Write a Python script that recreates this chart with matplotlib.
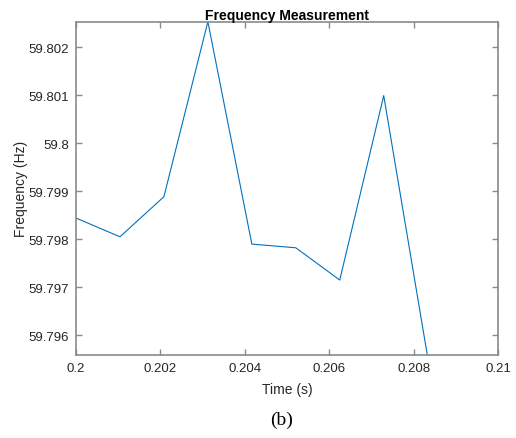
import numpy as np
import matplotlib
matplotlib.use("Agg")
import matplotlib.pyplot as plt

# samples (960 Hz spacing)
t = [0.2, 0.201042, 0.202083, 0.203125, 0.204167, 0.205208, 0.20625, 0.207292, 0.208333]
freq = [59.798444, 59.798054, 59.798888, 59.80253, 59.797902, 59.797825, 59.797154, 59.800992, 59.79555]
xticks = [0.2, 0.202, 0.204, 0.206, 0.208, 0.21]
xticklabels = ["0.2", "0.202", "0.204", "0.206", "0.208", "0.21"]
yticks = [59.796, 59.797, 59.798, 59.799, 59.8, 59.801, 59.802]
yticklabels = ["59.796", "59.797", "59.798", "59.799", "59.8", "59.801", "59.802"]

plt.rcParams['font.family'] = ['Liberation Sans', 'DejaVu Sans']
axcol = '#8a8a8a'
txtcol = '#262626'

fig = plt.figure(figsize=(5.16, 4.39), dpi=100)
ax = fig.add_axes([76/516, 1 - 355.7/439, (498-76)/516, (355.7-22.7)/439])
ax.plot(t, freq, color='#0072BD', linewidth=0.8)
ax.set_xlim(0.2, 0.21)
ax.set_ylim(59.7956, 59.80253)
ax.set_xticks(xticks)
ax.set_xticklabels(xticklabels)
ax.set_yticks(yticks)
ax.set_yticklabels(yticklabels)
for s in ax.spines.values():
    s.set_color(axcol)
    s.set_linewidth(1.2)
ax.tick_params(direction='in', top=True, right=True, length=4, width=1,
               color=axcol, labelcolor=txtcol, labelsize=9.5, pad=5)
ax.set_title("Frequency Measurement", fontsize=10, fontweight='bold', color='black', pad=2)
ax.set_xlabel("Time (s)", fontsize=10, color=txtcol, labelpad=6)
ax.set_ylabel("Frequency (Hz)", fontsize=10, color=txtcol, labelpad=0)
fig.text(282/516, 1 - 420/439, "(b)", family='Liberation Serif', fontsize=14,
         ha='center', va='center', color='black')

fig.savefig("out.png", dpi=100)
